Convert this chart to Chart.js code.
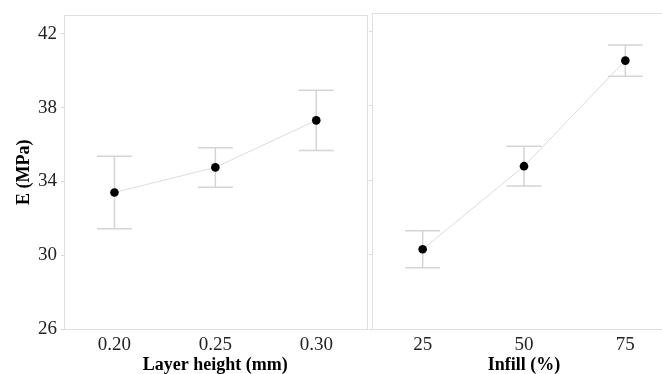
<!DOCTYPE html>
<html>
<head>
<meta charset="utf-8">
<script src="https://cdn.jsdelivr.net/npm/chart.js@4.4.1/dist/chart.umd.min.js"></script>
<style>
  body { margin: 0; background: #fff; }
  #wrap { position: relative; width: 662px; height: 374px; overflow: hidden; }
  #left { position: absolute; left: 0; top: 0; }
  #rightBox { position: absolute; left: 364px; top: 0; width: 298px; height: 374px; overflow: hidden; }
  #right { position: absolute; left: 0; top: 0; }
</style>
</head>
<body>
<div id="wrap">
  <canvas id="left" width="371" height="374"></canvas>
  <div id="rightBox"><canvas id="right" width="320" height="374"></canvas></div>
</div>
<script>
var layerLabels = ['0.20', '0.25', '0.30'];
var layerMean = [33.40, 34.76, 37.31];
var layerErr = [1.97, 1.07, 1.63];

var infillLabels = ['25', '50', '75'];
var infillMean = [30.29, 34.76, 40.44];
var infillErr = [1.0, 1.07, 0.84];

var yTicks = [26, 30, 34, 38, 42];

var serif = '"Liberation Serif", "Times New Roman", serif';

// error bars + panel border
var panelPlugin = {
  id: 'panel',
  beforeDatasetsDraw: function(chart) {
    var ctx = chart.ctx;
    var a = chart.chartArea;
    var ys = chart.scales.y;
    var xs = chart.scales.x;
    var ds = chart.data.datasets[0];
    var errs = ds.err;
    ctx.save();
    ctx.strokeStyle = '#d4d4d4';
    ctx.lineWidth = 1.5;
    for (var i = 0; i < ds.data.length; i++) {
      var x = xs.getPixelForValue(i);
      var hi = ys.getPixelForValue(ds.data[i] + errs[i]);
      var lo = ys.getPixelForValue(ds.data[i] - errs[i]);
      ctx.beginPath();
      ctx.moveTo(x, hi); ctx.lineTo(x, lo);
      ctx.moveTo(x - 17.5, hi); ctx.lineTo(x + 17.5, hi);
      ctx.moveTo(x - 17.5, lo); ctx.lineTo(x + 17.5, lo);
      ctx.stroke();
    }
    ctx.strokeStyle = '#e0e0e0';
    ctx.lineWidth = 1;
    ctx.strokeRect(Math.round(a.left) + 0.5, Math.round(a.top) + 0.5,
      Math.round(a.right - a.left), Math.round(a.bottom - a.top));
    ctx.restore();
  }
};

function makeChart(id, labels, mean, err, title, showY, padLeft, padRight) {
  return new Chart(document.getElementById(id), {
    type: 'line',
    data: {
      labels: labels,
      datasets: [{
        data: mean,
        err: err,
        borderColor: '#dcdcdc',
        borderWidth: 1,
        pointRadius: 4.3,
        pointBackgroundColor: '#000',
        pointBorderColor: '#000',
        pointBorderWidth: 0
      }]
    },
    options: {
      responsive: false,
      animation: false,
      layout: { padding: { top: 13, left: padLeft, right: padRight, bottom: 0 } },
      plugins: { legend: { display: false }, tooltip: { enabled: false } },
      scales: {
        x: {
          offset: true,
          grid: { display: false, drawTicks: false },
          border: { display: false },
          ticks: { color: '#222', font: { family: serif, size: 19 }, padding: 5, maxRotation: 0 },
          title: { display: true, text: title, color: '#000', font: { family: serif, size: 18, weight: 'bold', lineHeight: 1 }, padding: { top: 0, bottom: 0 } },
          afterFit: function(s) { s.height = 45; }
        },
        y: {
          min: 26,
          max: 43,
          afterBuildTicks: function(s) { s.ticks = yTicks.map(function(v) { return { value: v }; }); },
          grid: { drawOnChartArea: false, tickLength: 3, color: '#d8d8d8' },
          border: { display: false },
          ticks: { display: showY, color: '#222', font: { family: serif, size: 19 }, padding: 4 },
          title: { display: showY, text: 'E (MPa)', color: '#000', font: { family: serif, size: 18, weight: 'bold' }, padding: { top: 0, bottom: 0 } },
          afterFit: function(s) { s.width = showY ? 50 : 3; }
        }
      }
    },
    plugins: [panelPlugin]
  });
}

makeChart('left', layerLabels, layerMean, layerErr, 'Layer height (mm)', true, 14, 3);
makeChart('right', infillLabels, infillMean, infillErr, 'Infill (%)', false, 5, 8);
</script>
</body>
</html>
